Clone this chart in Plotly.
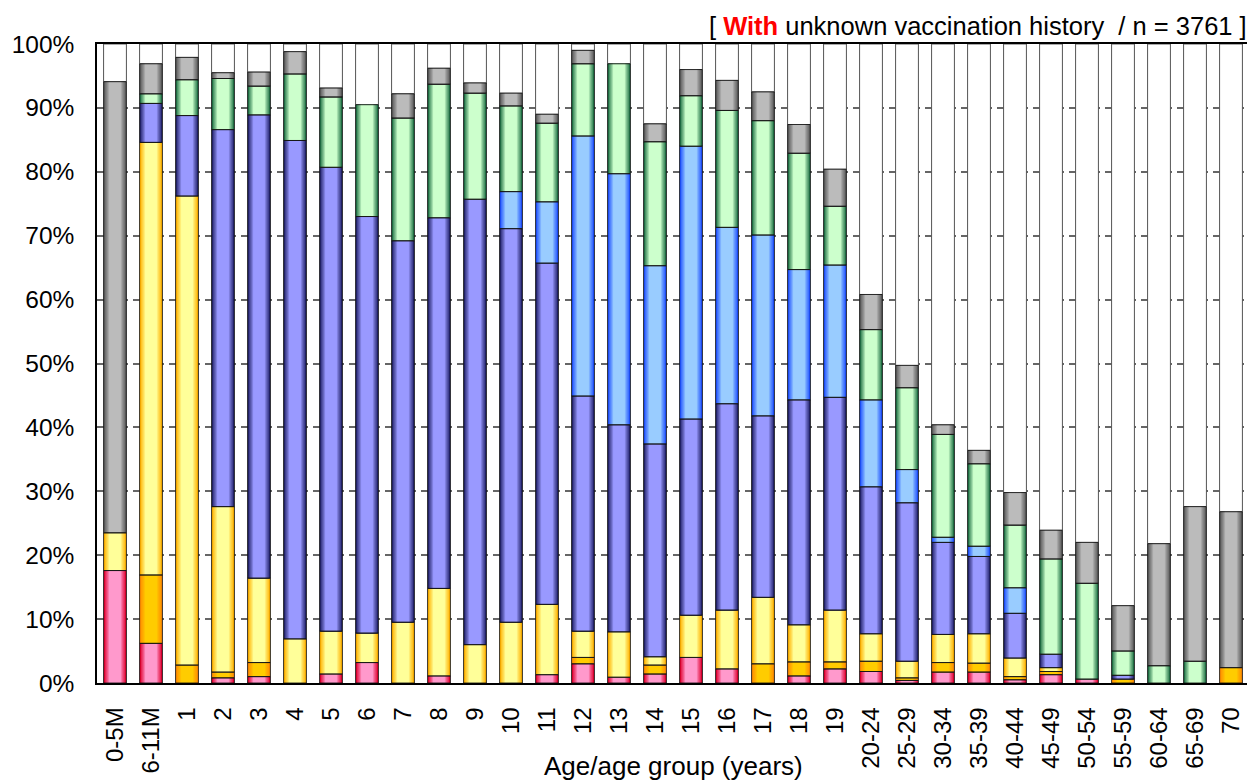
import numpy as np
import plotly.graph_objects as go

categories = ["0-5M", "6-11M", "1", "2", "3", "4", "5", "6", "7", "8", "9", "10",
              "11", "12", "13", "14", "15", "16", "17", "18", "19",
              "20-24", "25-29", "30-34", "35-39", "40-44", "45-49", "50-54",
              "55-59", "60-64", "65-69", "70"]

# percentage of each vaccination-history group (bottom -> top of stack)
red_vals = [17.6, 6.2, 0, 0.8, 1.0, 0, 1.4, 3.2, 0, 1.1, 0, 0, 1.3, 3.0, 0.9, 1.4,
            4.0, 2.2, 0, 1.1, 2.2, 1.8, 0.4, 1.7, 1.7, 0.5, 1.3, 0.6, 0, 0, 0, 0]
orange_vals = [0, 10.7, 2.8, 0.9, 2.2, 0, 0, 0, 0, 0, 0, 0, 0, 1.0, 0, 1.4,
               0, 0, 3.0, 2.2, 1.1, 1.6, 0.4, 1.5, 1.4, 0.5, 0.5, 0, 0.6, 0, 0, 2.4]
yellow_vals = [5.9, 67.7, 73.4, 25.9, 13.2, 6.9, 6.7, 4.6, 9.5, 13.7, 6.0, 9.5, 11.0, 4.1, 7.1, 1.3,
               6.6, 9.2, 10.4, 5.8, 8.1, 4.3, 2.6, 4.4, 4.6, 2.9, 0.6, 0, 0, 0, 0, 0]
blue_vals = [0, 6.1, 12.6, 59.0, 72.5, 78.0, 72.6, 65.2, 59.7, 58.0, 69.7, 61.6, 53.4, 36.8, 32.4, 33.3,
             30.7, 32.3, 28.4, 35.2, 33.3, 23.0, 24.8, 14.4, 12.1, 7.0, 2.1, 0, 0.6, 0, 0, 0]
lightblue_vals = [0, 0, 0, 0, 0, 0, 0, 0, 0, 0, 0, 5.8, 9.6, 40.7, 39.3, 27.9,
                  42.7, 27.6, 28.3, 20.4, 20.7, 13.6, 5.2, 0.8, 1.6, 4.0, 0, 0, 0, 0, 0, 0]
green_vals = [0, 1.5, 5.6, 8.0, 4.5, 10.4, 11.0, 17.5, 19.2, 20.9, 16.6, 13.4, 12.3, 11.3, 17.2, 19.4,
              7.9, 18.3, 17.9, 18.2, 9.2, 11.0, 12.8, 16.1, 12.9, 9.8, 14.9, 15.0, 3.8, 2.7, 3.4, 0]
gray_vals = [70.6, 4.7, 3.5, 0.9, 2.2, 3.5, 1.4, 0, 3.8, 2.5, 1.6, 2.0, 1.4, 2.1, 0, 2.8,
             4.1, 4.7, 4.5, 4.5, 5.8, 5.5, 3.5, 1.5, 2.1, 5.1, 4.5, 6.4, 7.1, 19.1, 24.2, 24.4]

y_ticks = [0, 10, 20, 30, 40, 50, 60, 70, 80, 90, 100]
y_ticktext = ["0%", "10%", "20%", "30%", "40%", "50%", "60%", "70%", "80%", "90%", "100%"]

series = [
    ("red", red_vals, "#E0002E", "#FF99CC"),
    ("orange", orange_vals, "#FF8C00", "#FFCC00"),
    ("yellow", yellow_vals, "#FFB000", "#FFFF99"),
    ("blue", blue_vals, "#22226A", "#9999FF"),
    ("lightblue", lightblue_vals, "#1E50FF", "#99CCFF"),
    ("green", green_vals, "#1F7044", "#CCFFCC"),
    ("gray", gray_vals, "#5A5A5A", "#BBBBBB"),
]

BAR_W = 0.634
layer_fracs = [1.0, 0.88, 0.76, 0.64, 0.52]
layer_t = [0.0, 0.25, 0.5, 0.78, 1.0]


def hex2rgb(h):
    h = h.lstrip("#")
    return np.array([int(h[i:i + 2], 16) for i in (0, 2, 4)], dtype=float)


def mix(c1, c2, t):
    c = hex2rgb(c1) * (1 - t) + hex2rgb(c2) * t
    return "rgb(%d,%d,%d)" % tuple(np.round(c).astype(int))


fig = go.Figure()
n = len(categories)
cum = np.zeros(n)
segments = []
for name, vals, edge, center in series:
    v = np.array(vals, dtype=float)
    base = cum.copy()
    cum = cum + v
    segments.append((name, v, base, edge, center))

# white remainder up to 100%
rem = 100 - cum
fig.add_trace(go.Bar(x=categories, y=[r if r > 0.05 else None for r in rem], base=cum,
                     width=BAR_W, marker=dict(color="white", line=dict(color="#555555", width=1)),
                     hoverinfo="skip", showlegend=False))

for name, v, base, edge, center in segments:
    yv = [val if val > 0 else None for val in v]
    for frac, t in zip(layer_fracs, layer_t):
        fig.add_trace(go.Bar(x=categories, y=yv, base=base, width=BAR_W * frac,
                             marker=dict(color=mix(edge, center, t), line=dict(width=0)),
                             hoverinfo="skip", showlegend=False, name=name))

for name, v, base, edge, center in segments:
    yv = [val if val > 0 else None for val in v]
    fig.add_trace(go.Bar(x=categories, y=yv, base=base, width=BAR_W,
                         marker=dict(color="rgba(0,0,0,0)", line=dict(color="rgba(20,20,20,0.85)", width=1)),
                         hoverinfo="skip", showlegend=False, name=name))

FONT = "Liberation Sans, Arial, sans-serif"
# the page body has an 8px margin; the figure is sized to fit the window exactly
fig.update_layout(
    width=1247, height=772,
    margin=dict(l=83, r=4, t=36, b=97),
    barmode="overlay",
    plot_bgcolor="white", paper_bgcolor="white",
    font=dict(family=FONT, size=24, color="black"),
    xaxis=dict(type="category", categoryorder="array", categoryarray=categories,
               tickangle=-90, ticks="outside", ticklen=13, tickcolor="rgba(0,0,0,0)",
               showline=True, linecolor="black", linewidth=1.5, mirror=True,
               showgrid=False, tickfont=dict(size=24)),
    yaxis=dict(range=[0, 100], tickvals=y_ticks, ticktext=y_ticktext,
               ticks="outside", ticklen=16, tickcolor="rgba(0,0,0,0)",
               showline=True, linecolor="black", linewidth=1.5, mirror=True,
               showgrid=True, gridcolor="#666666", gridwidth=1.5, griddash="7px,5px",
               zeroline=False, tickfont=dict(size=24.5)),
    annotations=[
        dict(text="[ <b><span style='color:#FF0000'>With</span></b> unknown vaccination history \u00a0/ n = 3761 ]",
             xref="paper", yref="paper", x=1.0, y=1.0, xanchor="right", yanchor="bottom",
             yshift=2, showarrow=False, font=dict(size=25.5, color="black", family=FONT)),
        dict(text="Age/age group (years)", xref="paper", yref="paper", x=0.5, y=-0.13,
             xanchor="center", yanchor="middle", showarrow=False,
             font=dict(size=26, color="black", family=FONT)),
    ],
)

fig.write_html("out.html")
